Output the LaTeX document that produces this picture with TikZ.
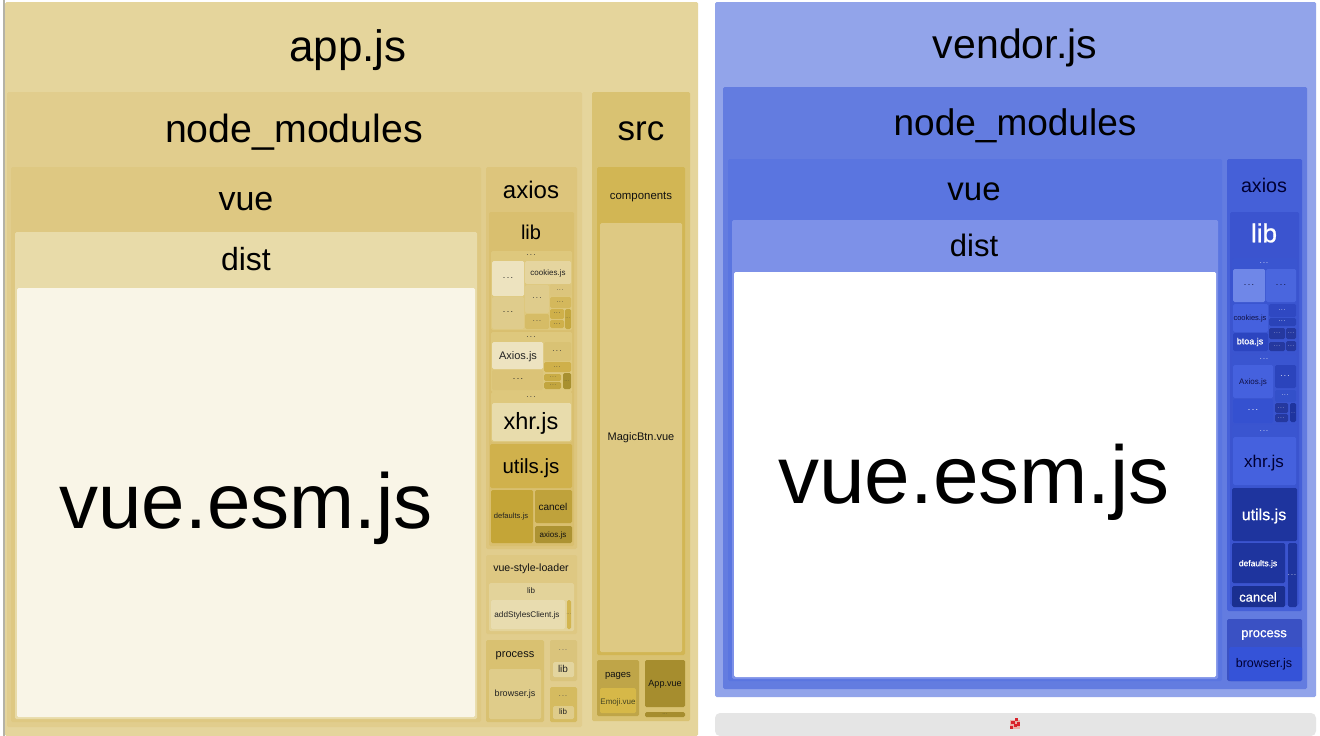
\documentclass[tikz,border=0pt]{standalone}
\usepackage{fontspec}
\setmainfont{Liberation Sans}
\newfontfamily\fakeb[FakeBold=0.7]{Liberation Sans}
\newcounter{tn}
\newcommand{\dotsx}{.\kern.16em.\kern.16em.}
\newcommand{\bx}[5]{\definecolor{tmpc}{HTML}{#5}\fill[boxstyle,tmpc] (#1,#2) rectangle (#3,#4);}
\newcommand{\tx}[5]{\stepcounter{tn}\definecolor{tmpt}{HTML}{#4}\node[labelstyle,text=tmpt,font=\fontsize{#3}{#3}\selectfont] (t\arabic{tn}) at (#1,#2) {#5};}
\tikzset{boxstyle/.style={rounded corners=1.5pt},labelstyle/.style={inner sep=0pt,outer sep=0pt}}
\begin{document}
\begin{tikzpicture}[x=1pt,y=-1pt]
\useasboundingbox (0,0) rectangle (1320,736);
\fill[white] (0,0) rectangle (1320,736);
\definecolor{gl}{HTML}{B4B2A6}\fill[gl] (2.5,0) rectangle (4.5,736);
% ===== app.js =====
\bx{5}{2}{698}{736}{E5D59C}
\tx{348}{50}{44}{000000}{app.js}
\bx{7}{92}{582}{727}{E1CD8D}
\tx{294}{132}{39.3}{000000}{node\_modules}
\bx{11}{167}{481}{722}{DEC882}
\tx{246}{202}{34}{000000}{vue}
\bx{15}{232}{477}{719}{E8DBA9}
\tx{246}{259}{32}{000000}{dist}
\bx{17}{288}{475}{717}{F9F5E7}
\tx{246}{508}{78}{000000}{vue.esm.js}
% axios
\bx{486}{167}{577}{549}{DDC57C}
\tx{531}{190}{24}{000000}{axios}
\bx{489}{212}{574}{546}{D9BF6F}
\tx{531}{232}{20}{000000}{lib}
\bx{491}{251}{572}{330}{DEC87D}
\tx{531}{255}{8}{333333}{\dotsx}
\bx{492}{261}{524}{296}{EDE3BF}
\tx{508}{278}{9}{222222}{\dotsx}
\bx{525}{261}{571}{284}{E5D59F}
\tx{548}{273}{8}{222222}{cookies.js}
\bx{492}{297}{524}{329}{DFCC8C}
\tx{508}{312}{9}{222222}{\dotsx}
\bx{525}{285}{549}{313}{DFCC8C}
\tx{537}{298}{8}{333333}{\dotsx}
\bx{525}{314}{549}{329}{D6BC66}
\tx{537}{321}{7}{333333}{\dotsx}
\bx{550}{284}{571}{296}{DCC57C}
\tx{560}{290}{6}{333333}{\dotsx}
\bx{550}{297}{571}{308}{D4B85C}
\tx{560}{302}{6}{333333}{\dotsx}
\bx{550}{309}{564}{319}{CFB04A}
\tx{557}{313}{6}{333333}{\dotsx}
\bx{550}{320}{564}{328}{CFB04A}
\tx{557}{324}{6}{333333}{\dotsx}
\bx{565}{309}{571}{329}{C4A73F}
\tx{568}{318}{4}{333333}{\dotsx}
\bx{491}{332}{572}{392}{DEC87D}
\tx{531}{337}{8}{333333}{\dotsx}
\bx{492}{342}{543}{369}{EDE3C0}
\tx{518}{357}{11}{222222}{Axios.js}
\bx{544}{342}{571}{361}{D9C274}
\tx{557}{351}{8}{333333}{\dotsx}
\bx{544}{362}{571}{372}{CFB04A}
\tx{557}{367}{6}{333333}{\dotsx}
\bx{492}{370}{543}{390}{DBC377}
\tx{518}{379}{9}{222222}{\dotsx}
\bx{544}{374}{561}{381}{C9AC45}
\tx{553}{377}{5}{333333}{\dotsx}
\bx{544}{382}{561}{389}{C2A53F}
\tx{553}{385}{5}{333333}{\dotsx}
\bx{563}{373}{571}{389}{A89030}
\tx{567}{381}{4}{333333}{\dotsx}
\bx{491}{392}{572}{442}{DEC87D}
\tx{531}{397}{8}{333333}{\dotsx}
\bx{492}{403}{571}{441}{E8DCAC}
\tx{531}{423}{23.5}{000000}{xhr.js}
\bx{490}{444}{572}{488}{D0B14C}
\tx{531}{468}{20.5}{000000}{utils.js}
\bx{491}{490}{533}{543}{C4A537}
\tx{511}{517}{7.6}{222222}{defaults.js}
\bx{535}{490}{572}{523}{BFA23B}
\tx{553}{507}{10}{111111}{cancel}
\bx{535}{526}{572}{543}{AD9332}
\tx{553}{535}{8}{111111}{axios.js}
% vue-style-loader
\bx{486}{555}{577}{634}{DEC882}
\tx{531}{569}{10.6}{111111}{vue-style-loader}
\bx{489}{583}{574}{631}{E3D39A}
\tx{531}{591}{8}{222222}{lib}
\bx{491}{600}{565}{629}{E8DCAF}
\tx{527}{615}{8.2}{222222}{addStylesClient.js}
\bx{567}{600}{571}{629}{D2B550}
\tx{569}{614}{4}{333333}{\dotsx}
% process
\bx{486}{640}{544}{722}{D9C171}
\tx{515}{656}{11}{111111}{process}
\bx{489}{669}{541}{719}{DFCC8A}
\tx{515}{694}{9}{222222}{browser.js}
\bx{550}{640}{577}{681}{DAC47C}
\tx{563}{650}{7}{555555}{\dotsx}
\bx{553}{662}{574}{677}{E3D59F}
\tx{563}{669}{10}{222222}{lib}
\bx{550}{687}{577}{722}{D5BB60}
\tx{563}{696}{7}{444444}{\dotsx}
\bx{553}{706}{574}{719}{DFCC8A}
\tx{563}{712}{8}{222222}{lib}
% src
\bx{592}{92}{690}{721}{D9C272}
\tx{641}{131}{35}{000000}{src}
\bx{597}{167}{685}{655}{D2B654}
\tx{641}{197}{11.4}{111111}{components}
\bx{600}{223}{682}{652}{DEC983}
\tx{641}{438}{11}{111111}{MagicBtn.vue}
\bx{597}{660}{639}{716}{BFA548}
\tx{618}{676}{9.5}{111111}{pages}
\bx{600}{688}{636}{713}{D6B848}
\tx{618}{702}{8}{444422}{Emoji.vue}
\bx{645}{660}{685}{707}{A68D2E}
\tx{665}{684}{9}{111111}{App.vue}
\bx{645}{712}{685}{717}{A68D2E}
\tx{665}{714}{4}{333333}{\dotsx}
% ===== vendor.js =====
\bx{715}{2}{1316}{697}{92A4EA}
\tx{1015}{48}{41}{000000}{vendor.js}
\bx{723}{87}{1307}{689}{637CE0}
\tx{1015}{126}{37}{000000}{node\_modules}
\bx{728}{159}{1222}{681}{5A75E0}
\tx{974}{192}{33}{000000}{vue}
\bx{732}{220}{1218}{679}{7D91E8}
\tx{974}{245}{31}{000000}{dist}
\bx{734}{272}{1216}{677}{FFFFFF}
\tx{974}{482}{82}{000000}{vue.esm.js}
% axios
\bx{1227}{159}{1302}{611}{4560D8}
\tx{1264}{185}{19.7}{000033}{axios}
\bx{1230}{212}{1299}{605}{3B54CF}
\tx{1264}{233}{26}{FFFFFF}{\fakeb lib}
\bx{1232}{258}{1297}{353}{3A55D0}
\tx{1264}{263}{7}{FFFFFF}{\dotsx}
\bx{1233}{269}{1265}{302}{6F87E8}
\tx{1249}{285}{9}{111133}{\dotsx}
\bx{1266}{269}{1296}{302}{4A66DE}
\tx{1281}{285}{9}{111133}{\dotsx}
\bx{1233}{304}{1268}{332}{4561DE}
\tx{1250}{319}{7.5}{111144}{cookies.js}
\bx{1233}{333}{1268}{351}{2C45C0}
\tx{1250}{342}{9}{FFFFFF}{\fakeb btoa.js}
\bx{1269}{304}{1296}{317}{2F48C2}
\tx{1282}{310}{6}{FFFFFF}{\dotsx}
\bx{1269}{318}{1296}{326}{2A43B8}
\tx{1282}{321}{6}{FFFFFF}{\dotsx}
\bx{1269}{328}{1285}{339}{25389F}
\tx{1277}{333}{5}{FFFFFF}{\dotsx}
\bx{1286}{328}{1296}{339}{25389F}
\tx{1291}{333}{5}{FFFFFF}{\dotsx}
\bx{1269}{342}{1285}{351}{25389F}
\tx{1277}{346}{5}{FFFFFF}{\dotsx}
\bx{1286}{341}{1296}{351}{25389F}
\tx{1291}{346}{5}{FFFFFF}{\dotsx}
\bx{1232}{355}{1297}{424}{3A55D0}
\tx{1264}{359}{7}{FFFFFF}{\dotsx}
\bx{1233}{365}{1273}{398}{4561DE}
\tx{1253}{382}{8}{111144}{Axios.js}
\bx{1275}{365}{1296}{388}{2B44BC}
\tx{1285}{376}{8}{FFFFFF}{\dotsx}
\bx{1275}{390}{1296}{402}{3350C9}
\tx{1285}{395}{6}{FFFFFF}{\dotsx}
\bx{1233}{399}{1273}{423}{3551D0}
\tx{1253}{410}{9}{FFFFFF}{\dotsx}
\bx{1275}{403}{1288}{413}{25389F}
\tx{1281}{408}{5}{FFFFFF}{\dotsx}
\bx{1275}{414}{1288}{422}{25389F}
\tx{1281}{418}{5}{FFFFFF}{\dotsx}
\bx{1290}{403}{1296}{422}{1E349E}
\tx{1293}{413}{3.5}{FFFFFF}{\dotsx}
\bx{1232}{425}{1297}{487}{3A55D0}
\tx{1264}{431}{7}{FFFFFF}{\dotsx}
\bx{1233}{437}{1296}{485}{4561DE}
\tx{1264}{463}{17}{000033}{xhr.js}
\bx{1232}{488}{1297}{541}{1E349E}
\tx{1264}{516}{16}{FFFFFF}{\fakeb utils.js}
\bx{1232}{543}{1285}{583}{1E349E}
\tx{1258}{564}{8.5}{FFFFFF}{\fakeb defaults.js}
\bx{1232}{586}{1285}{607}{1A2F90}
\tx{1258}{597}{13}{FFFFFF}{\fakeb cancel}
\bx{1288}{543}{1297}{607}{1E349E}
\tx{1292}{575}{7}{FFFFFF}{\dotsx}
% process
\bx{1227}{619}{1302}{681}{3A51C4}
\tx{1264}{635}{13}{FFFFFF}{\fakeb process}
\bx{1229}{647}{1302}{681}{3553D8}
\tx{1264}{664}{12.5}{000033}{browser.js}
% bottom bar
\definecolor{barc}{HTML}{E5E5E5}
\fill[barc,rounded corners=5pt] (715,713) rectangle (1316,736);
\definecolor{ic}{HTML}{D8222A}\definecolor{ib}{HTML}{E8B0A8}
\fill[ib] (1010,720) rectangle (1020,729);
\fill[ic] (1015,718) rectangle (1018,721);
\fill[ic] (1011,721) rectangle (1015,724);
\fill[ic] (1017,722) rectangle (1020,726);
\fill[ic] (1014,724) rectangle (1017,727);
\fill[ic] (1010,726) rectangle (1013,729);
\end{tikzpicture}
\end{document}
